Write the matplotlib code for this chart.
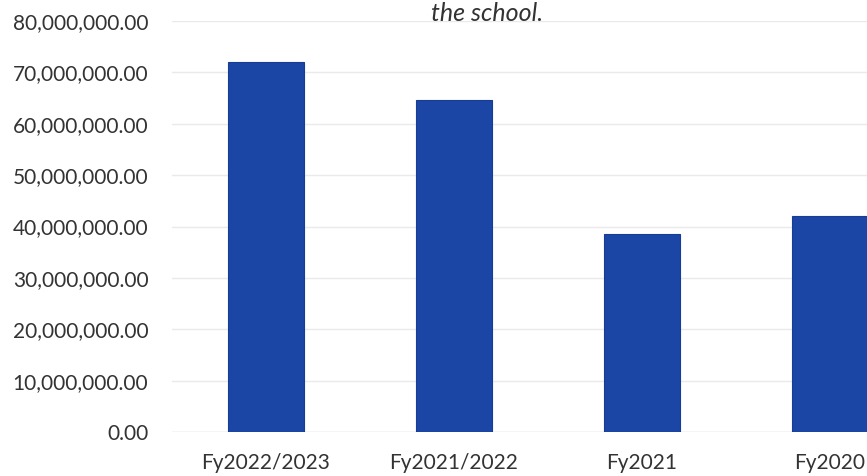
import matplotlib
matplotlib.use('Agg')
import matplotlib.pyplot as plt
from matplotlib.ticker import FuncFormatter

categories = ['Fy2022/2023', 'Fy2021/2022', 'Fy2021', 'Fy2020']
values = [72_000_000, 64_700_000, 38_600_000, 42_000_000]
y_ticks = [0, 10_000_000, 20_000_000, 30_000_000, 40_000_000,
           50_000_000, 60_000_000, 70_000_000, 80_000_000]
title_tail = 'the school.'

plt.rcParams['font.family'] = ['Lato', 'DejaVu Sans']

fig = plt.figure(figsize=(8.67, 4.76), dpi=100)
# plot area runs past the right edge, as in the cropped source image
ax = fig.add_axes([172 / 867, 44 / 476, 752 / 867, 411 / 476])

x = range(len(categories))
ax.bar(x, values, width=0.4, color='#1B46A6', edgecolor='#163C93', linewidth=0.8, zorder=3)

ax.set_xlim(-0.5, len(categories) - 0.5)
ax.set_ylim(0, 80_000_000)
ax.set_yticks(y_ticks)
ax.yaxis.set_major_formatter(FuncFormatter(lambda v, _: f'{v:,.2f}'))
ax.set_xticks(list(x))
ax.set_xticklabels(categories)

ax.grid(axis='y', color='#EAEAEA', linewidth=1.0, zorder=0)
for side in ['top', 'right', 'left', 'bottom']:
    ax.spines[side].set_visible(False)
ax.axhline(0, color='#DDDDDD', linewidth=1.0, zorder=1)
ax.tick_params(axis='both', length=0, labelsize=15, labelcolor='#333333')
ax.tick_params(axis='y', pad=17)
ax.tick_params(axis='x', pad=15)

# tail of a title whose first line lies above the crop
fig.text(487 / 867, 1 - 2 / 476, title_tail, ha='center', va='top',
         fontsize=18, style='italic', color='#333333')

fig.savefig('out.png', dpi=100)
